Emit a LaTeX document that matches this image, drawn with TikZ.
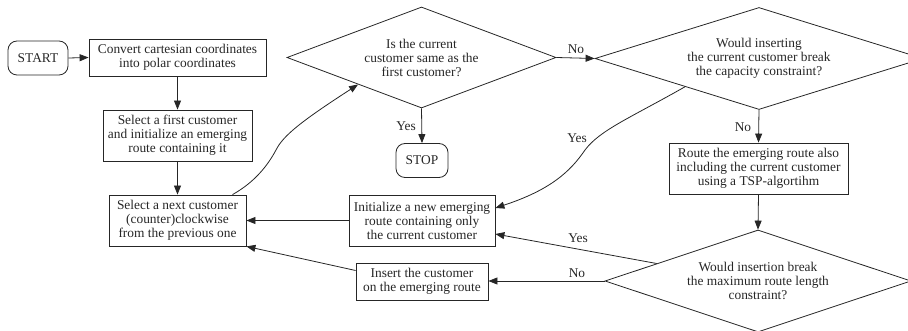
\documentclass[tikz,border=0pt]{standalone}
\usepackage{fontspec}
\setmainfont{Liberation Serif}
\usetikzlibrary{shapes.geometric,arrows.meta,calc}

\begin{document}
\begin{tikzpicture}[x=1pt,y=-1pt,
  every node/.style={font=\fontsize{13.4}{14}\selectfont, align=center,
    inner sep=0pt, text=black!85},
  box/.style={draw=black!85, line width=0.8pt, rectangle},
  term/.style={draw=black!85, line width=0.8pt, rectangle, rounded corners=9pt},
  decision/.style={draw=black!85, line width=0.8pt, diamond},
  flow/.style={draw=black!85, line width=0.8pt, -{Triangle[length=9pt,width=7pt]}},
  lbl/.style={}]
\useasboundingbox (0,0) rectangle (908,331);

% terminals
\node[term, minimum width=60pt, minimum height=34pt] (start) at (38,58) {START};
\node[term, minimum width=52pt, minimum height=34pt] (stop) at (422,160.5) {STOP};

% process boxes
\node[box, minimum width=177pt, minimum height=37pt] (convert) at (177.5,57.5)
  {Convert cartesian coordinates\\into polar coordinates};
\node[box, minimum width=149pt, minimum height=51pt] (first) at (177.5,135.5)
  {Select a first customer\\and initialize an emerging\\route containing it};
\node[box, minimum width=137pt, minimum height=51pt] (next) at (177.5,220.5)
  {Select a next customer\\(counter)clockwise\\from the previous one};
\node[box, minimum width=146pt, minimum height=51pt] (init) at (422,220.5)
  {Initialize a new emerging\\route containing only\\the current customer};
\node[box, minimum width=132pt, minimum height=37pt] (insert) at (422,281.5)
  {Insert the customer\\on the emerging route};
\node[box, minimum width=179pt, minimum height=51pt] (route) at (758.5,168.5)
  {Route the emerging route also\\including the current customer\\using a TSP-algortihm};

% decisions
\node[decision, aspect=2.66, minimum width=269pt, minimum height=101pt] (d1) at (421.5,57.5)
  {Is the current\\customer same as the\\first customer?};
\node[decision, aspect=3.2, minimum width=328pt, minimum height=102pt] (d2) at (759,58.5)
  {Would inserting\\the current customer break\\the capacity constraint?};
\node[decision, aspect=3.0, minimum width=306pt, minimum height=102pt] (d3) at (758,281)
  {Would insertion break\\the maximum route length\\constraint?};

% connectors
\draw[flow] (start.east) -- (convert.west);
\draw[flow] (convert.south) -- (first.north);
\draw[flow] (first.south) -- (next.north);
\draw[flow] ([xshift=55pt]next.north)
  .. controls (255,182) and (268,165) .. (276,150)
  .. controls (283,136) and (300,122) .. ($(d1.west)!0.53!(d1.south)$);
\draw[flow] (d1.east) -- (d2.west);
\draw[flow] (d1.south) -- (stop.north);
\draw[flow] ($(d2.west)!0.55!(d2.south)$)
  .. controls (630,118) and (600,130) .. (585,150)
  .. controls (570,172) and (550,190) .. ([yshift=12.5pt]init.east);
\draw[flow] (d2.south) -- (route.north);
\draw[flow] (route.south) -- (d3.north);
\draw[flow] ($(d3.west)!0.34!(d3.north)$) -- ([yshift=-13.5pt]init.east);
\draw[flow] (d3.west) -- (d3.west -| insert.east);
\draw[flow] (init.west) -- (next.east);
\draw[flow] ([yshift=11pt]insert.west) -- (next.south east);

% branch labels
\node[lbl] (noA) at (576,49) {No};
\node[lbl] (yesA) at (406,126) {Yes};
\node[lbl] (yesB) at (577,138) {Yes};
\node[lbl] (noB) at (743,127) {No};
\node[lbl] (yesC) at (578,238) {Yes};
\node[lbl] (noC) at (577,273) {No};
\end{tikzpicture}
\end{document}
